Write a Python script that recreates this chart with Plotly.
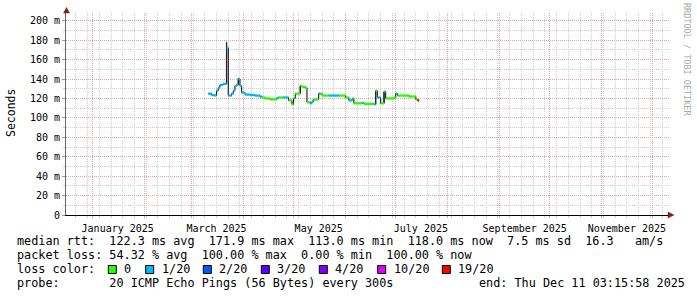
import plotly.graph_objects as go
import pandas as pd

# ---------------- data ----------------
dates = ["2025-03-11", "2025-03-13", "2025-03-15", "2025-03-16", "2025-03-17", "2025-03-18",
         "2025-03-20", "2025-03-22", "2025-03-23", "2025-03-25", "2025-03-26", "2025-03-27",
         "2025-03-28", "2025-03-29", "2025-03-30", "2025-03-31", "2025-04-02", "2025-04-05",
         "2025-04-08", "2025-04-11", "2025-04-12", "2025-04-14", "2025-04-17", "2025-04-18",
         "2025-04-21", "2025-04-22", "2025-04-25", "2025-04-28", "2025-04-30", "2025-05-01",
         "2025-05-02", "2025-05-05", "2025-05-06", "2025-05-08", "2025-05-09", "2025-05-11",
         "2025-05-12", "2025-05-13", "2025-05-16", "2025-05-17", "2025-05-18", "2025-05-22",
         "2025-05-28", "2025-06-01", "2025-06-03", "2025-06-05", "2025-06-06", "2025-06-11",
         "2025-06-12", "2025-06-18", "2025-06-19", "2025-06-20", "2025-06-22", "2025-06-24",
         "2025-06-25", "2025-06-30", "2025-07-01", "2025-07-02", "2025-07-09", "2025-07-13",
         "2025-07-14"]
median_ms = [125, 123.5, 123, 128, 131, 134,
             135, 172, 123, 125, 128, 133,
             134, 140, 133, 126, 124, 123.5,
             123, 122, 121, 120, 119, 119,
             120.5, 121, 121, 118, 114, 120,
             125, 133, 132, 131, 116, 115,
             117, 119, 125, 125, 123, 123,
             123, 121, 118, 120, 115, 115.5,
             114.5, 114, 128, 121, 115, 127,
             120, 121, 125, 123, 122, 119,
             118]
loss_idx = [1, 1, 1, 1, 1, 1,
            1, 1, 1, 1, 1, 1,
            1, 1, 1, 1, 1, 1,
            1, 1, 0, 0, 0, 0,
            1, 0, 1, 0, 0, 0,
            0, 0, 0, 0, 0, 1,
            1, 0, 1, 0, 0, 1,
            0, 0, 1, 0, 0, 1,
            0, 1, 0, 1, 0, 1,
            0, 0, 1, 0, 0, 0,
            6]
data_end = "2025-07-15"

smoke_dates = ["2025-03-22", "2025-03-29", "2025-05-05", "2025-06-19", "2025-06-24"]
smoke_lo_ms = [135, 134, 125, 114, 115]
smoke_hi_ms = [178, 141, 133, 128, 127]

loss_labels = ["0", "1/20", "2/20", "3/20", "4/20", "10/20", "19/20"]
loss_colors = ["#26ff00", "#00b8ff", "#0059ff", "#5e00ff", "#7e00ff", "#dd00ff", "#ff0000"]

y_tick_vals = [0, 0.02, 0.04, 0.06, 0.08, 0.10, 0.12, 0.14, 0.16, 0.18, 0.20]
y_tick_text = ["0", "20 m", "40 m", "60 m", "80 m", "100 m", "120 m", "140 m", "160 m", "180 m", "200 m"]
month_label_dates = ["2025-01-16", "2025-03-16", "2025-05-16", "2025-07-16", "2025-09-16", "2025-11-16"]
month_label_text = ["January 2025", "March 2025", "May 2025", "July 2025", "September 2025", "November 2025"]

x_start = "2024-12-16 03:15:58"
x_end = "2025-12-11 03:15:58"

legend_line1 = "median rtt:  122.3 ms avg  171.9 ms max  113.0 ms min  118.0 ms now  7.5 ms sd  16.3   am/s"
legend_line2 = "packet loss: 54.32 % avg  100.00 % max  0.00 % min  100.00 % now"
legend_line3 = "loss color:"
legend_line4 = "probe:       20 ICMP Echo Pings (56 Bytes) every 300s"
legend_end = "end: Thu Dec 11 03:15:58 2025"

# ---------------- layout geometry ----------------
W, H = 697, 297
L, R, T, B = 66, 28, 13, 82
PW, PH = W - L - R, H - T - B
Y_MAX = 0.208

def px(x):
    return (x - L) / PW

def py(y):
    return (H - B - y) / PH

MONO = "DejaVu Sans Mono"
MAJ = "#eaa0a0"
MIN = "#cfcfcf"

def nb(s):
    return s.replace(" ", "\u00a0")

fig = go.Figure()

vals = [v / 1000 for v in median_ms]
xs = dates + [data_end]
ys = vals + [vals[-1]]

# black step line underneath (vertical transitions)
fig.add_trace(go.Scatter(x=xs, y=ys, mode="lines", line=dict(color="#000000", width=1, shape="hv"),
                         hoverinfo="skip", showlegend=False))

# smoke bars
sx, sy = [], []
for d, lo, hi in zip(smoke_dates, smoke_lo_ms, smoke_hi_ms):
    sx += [d, d, None]
    sy += [lo / 1000, hi / 1000, None]
fig.add_trace(go.Scatter(x=sx, y=sy, mode="lines", line=dict(color="#222222", width=1.3),
                         hoverinfo="skip", showlegend=False))

# colored median segments per loss class
for ci, col in enumerate(loss_colors):
    cx, cy = [], []
    for i in range(len(dates)):
        if loss_idx[i] != ci:
            continue
        cx += [xs[i], xs[i + 1], None]
        cy += [vals[i], vals[i], None]
    if cx:
        fig.add_trace(go.Scatter(x=cx, y=cy, mode="lines", line=dict(color=col, width=2.3),
                                 hoverinfo="skip", showlegend=False))

# invisible trace on label axis
fig.add_trace(go.Scatter(x=[x_start], y=[0], xaxis="x2", mode="markers",
                         marker=dict(opacity=0), hoverinfo="skip", showlegend=False))

month_starts = [d.strftime("%Y-%m-%d") for d in pd.date_range("2025-01-01", "2025-12-01", freq="MS")]
weeks = [d.strftime("%Y-%m-%d") for d in pd.date_range("2024-12-22", "2025-12-10", freq="7D")]

fig.update_layout(
    width=W, height=H,
    margin=dict(l=L, r=R, t=T, b=B, pad=0),
    paper_bgcolor="white", plot_bgcolor="white",
    font=dict(family=MONO, size=10, color="#000"),
    xaxis=dict(
        range=[x_start, x_end], type="date",
        tickmode="array", tickvals=month_starts, showticklabels=False,
        showgrid=True, gridcolor=MAJ, griddash="1px,1px", gridwidth=1,
        ticks="outside", ticklen=2, tickcolor=MAJ,
        minor=dict(tickmode="array", tickvals=weeks, showgrid=True, gridcolor=MIN,
                   griddash="1px,1px", ticks="outside", ticklen=2, tickcolor=MIN),
        showline=True, linecolor="#000", linewidth=1,
        zeroline=False, fixedrange=True,
    ),
    xaxis2=dict(
        range=[x_start, x_end], type="date", overlaying="x", side="bottom", anchor="y",
        tickmode="array", tickvals=month_label_dates, ticktext=month_label_text,
        showgrid=False, ticks="outside", ticklen=4, tickcolor="rgba(0,0,0,0)",
        showline=False, zeroline=False,
        tickfont=dict(family=MONO, size=10, color="#000"),
    ),
    yaxis=dict(
        range=[0, Y_MAX],
        tickmode="array", tickvals=y_tick_vals, ticktext=y_tick_text,
        tickfont=dict(family=MONO, size=10, color="#000"),
        showgrid=True, gridcolor=MAJ, griddash="1px,1px", gridwidth=1,
        ticks="outside", ticklen=3, tickcolor="#999",
        minor=dict(dtick=0.01, tick0=0, showgrid=True, gridcolor=MIN, griddash="1px,1px",
                   ticks="outside", ticklen=2, tickcolor=MIN),
        showline=True, linecolor="#666", linewidth=1,
        zeroline=False, fixedrange=True,
    ),
    showlegend=False,
)

ann = []
ann.append(dict(text="Seconds", x=px(11), y=py(113), xref="paper", yref="paper",
                xanchor="center", yanchor="middle",
                textangle=-90, showarrow=False, font=dict(family=MONO, size=11.5, color="#000")))
ann.append(dict(text=nb("RRDTOOL / TOBI OETIKER"), x=px(687), y=py(59), xref="paper", yref="paper",
                xanchor="center", yanchor="middle",
                textangle=90, showarrow=False, font=dict(family=MONO, size=8.5, color="#a8a8a8")))

FS = 11.8
for txt, yy in [(legend_line1, 241.5), (legend_line2, 255.3), (legend_line3, 269.3), (legend_line4, 283.3)]:
    ann.append(dict(text=nb(txt), x=px(15), y=py(yy), xref="paper", yref="paper",
                    xanchor="left", yanchor="middle", showarrow=False,
                    font=dict(family=MONO, size=FS, color="#000")))
ann.append(dict(text=nb(legend_end), x=px(477), y=py(283.3), xref="paper", yref="paper",
                xanchor="left", yanchor="middle", showarrow=False,
                font=dict(family=MONO, size=FS, color="#000")))

sq_x = [108.3, 145.7, 203.3, 261.3, 319.3, 377.7, 442.3]
shapes = []
for lab, col, sx0 in zip(loss_labels, loss_colors, sq_x):
    shapes.append(dict(type="rect", xref="paper", yref="paper",
                       x0=px(sx0), x1=px(sx0 + 8), y0=py(273.5), y1=py(265.5),
                       fillcolor=col, line=dict(color="#000", width=1)))
    ann.append(dict(text=nb(lab), x=px(sx0 + 14), y=py(269.3), xref="paper", yref="paper",
                    xanchor="left", yanchor="middle", showarrow=False,
                    font=dict(family=MONO, size=FS, color="#000")))

# axis arrows
AR = "#8b1a1a"
shapes.append(dict(type="path", xref="paper", yref="paper",
                   path=f"M {px(63.5)} {py(13)} L {px(69.5)} {py(13)} L {px(66.5)} {py(7.5)} Z",
                   fillcolor=AR, line=dict(color=AR, width=0.5)))
shapes.append(dict(type="path", xref="paper", yref="paper",
                   path=f"M {px(668)} {py(212)} L {px(668)} {py(218)} L {px(674)} {py(215)} Z",
                   fillcolor=AR, line=dict(color=AR, width=0.5)))

fig.update_layout(annotations=ann, shapes=shapes)

fig.write_html("out.html")
